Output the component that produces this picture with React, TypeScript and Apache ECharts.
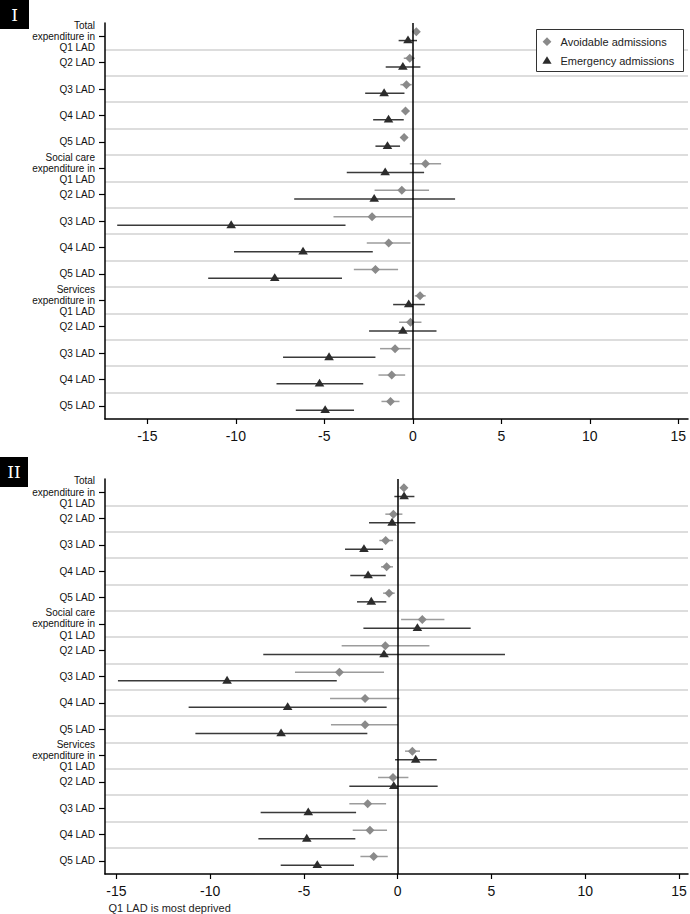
import React, { useEffect, useRef } from "react";
import * as echarts from "echarts";

const categories = [
  "Total\nexpenditure in\nQ1 LAD", "Q2 LAD", "Q3 LAD", "Q4 LAD", "Q5 LAD",
  "Social care\nexpenditure in\nQ1 LAD", "Q2 LAD", "Q3 LAD", "Q4 LAD", "Q5 LAD",
  "Services\nexpenditure in\nQ1 LAD", "Q2 LAD", "Q3 LAD", "Q4 LAD", "Q5 LAD",
];

const xTicks = [-15, -10, -5, 0, 5, 10, 15];

// Panel I
const avoidI = [0.2, -0.17, -0.36, -0.41, -0.49, 0.72, -0.62, -2.3, -1.36, -2.11, 0.41, -0.13, -1.0, -1.19, -1.26];
const avoidILo = [0.05, -0.51, -0.7, -0.62, -0.68, -0.17, -2.16, -4.48, -2.6, -3.33, 0.11, -0.77, -1.85, -1.94, -1.77];
const avoidIHi = [0.35, 0.11, -0.06, -0.2, -0.3, 1.6, 0.92, -0.06, -0.13, -0.83, 0.73, 0.49, -0.13, -0.43, -0.75];
const emergI = [-0.27, -0.56, -1.62, -1.37, -1.43, -1.56, -2.18, -10.26, -6.2, -7.8, -0.23, -0.56, -4.73, -5.27, -4.95];
const emergILo = [-0.8, -1.53, -2.69, -2.24, -2.11, -3.73, -6.7, -16.7, -10.1, -11.56, -1.11, -2.47, -7.33, -7.7, -6.61];
const emergIHi = [0.24, 0.43, -0.47, -0.51, -0.72, 0.64, 2.39, -3.8, -2.26, -4.0, 0.68, 1.34, -2.11, -2.8, -3.32];

// Panel II
const avoidII = [0.33, -0.23, -0.64, -0.59, -0.46, 1.31, -0.66, -3.11, -1.74, -1.74, 0.78, -0.25, -1.6, -1.48, -1.28];
const avoidIILo = [0.15, -0.66, -0.98, -0.89, -0.78, 0.18, -2.99, -5.48, -3.61, -3.56, 0.39, -1.05, -2.58, -2.4, -1.99];
const avoidIIHi = [0.5, 0.25, -0.25, -0.25, -0.16, 2.49, 1.69, -0.73, 0.09, 0.02, 1.19, 0.57, -0.62, -0.57, -0.53];
const emergII = [0.34, -0.3, -1.8, -1.58, -1.41, 1.05, -0.73, -9.1, -5.87, -6.22, 0.96, -0.21, -4.77, -4.85, -4.29];
const emergIILo = [-0.18, -1.53, -2.81, -2.53, -2.17, -1.83, -7.17, -14.92, -11.15, -10.79, -0.14, -2.58, -7.31, -7.43, -6.24];
const emergIIHi = [0.89, 0.94, -0.78, -0.64, -0.61, 3.89, 5.72, -3.25, -0.59, -1.62, 2.08, 2.13, -2.22, -2.26, -2.33];

const FONT = "'Liberation Sans', Arial, Helvetica, sans-serif";
const DIAMOND_FILL = "#8a8a8a";
const DIAMOND_BAR = "#9c9c9c";
const TRI_FILL = "#2c2c2c";
const TRI_BAR = "#3a3a3a";

function makeRender(kind: "diamond" | "triangle", fill: string, bar: string, off: number) {
  return (params: any, api: any) => {
    const v = api.value(0);
    const i = api.value(1);
    const lo = api.value(2);
    const hi = api.value(3);
    const c = api.coord([v, i]);
    const band = api.size([0, 1])[1];
    const y = c[1] + off * band;
    const x = c[0];
    const x1 = api.coord([lo, i])[0];
    const x2 = api.coord([hi, i])[0];
    let pts: number[][];
    if (kind === "diamond") {
      const s = 4.5;
      pts = [[x, y - s], [x + s, y], [x, y + s], [x - s, y]];
    } else {
      pts = [[x, y - 5], [x + 4.8, y + 2.8], [x - 4.8, y + 2.8]];
    }
    return {
      type: "group",
      children: [
        { type: "line", shape: { x1, y1: y, x2, y2: y }, style: { stroke: bar, lineWidth: 1.5 } },
        { type: "polygon", shape: { points: pts }, style: { fill, stroke: null } },
      ],
    };
  };
}

function seriesData(vals: number[], lo: number[], hi: number[]) {
  return vals.map((v, i) => [v, i, lo[i], hi[i]]);
}

function yAxisFor(g: number) {
  return {
    type: "category",
    gridIndex: g,
    inverse: true,
    boundaryGap: true,
    data: categories.map((_, i) => String(i)),
    axisLine: { show: true, onZero: false, lineStyle: { color: "#000", width: 1.5 } },
    axisTick: { show: true, alignWithLabel: true, interval: 0, length: 6, lineStyle: { color: "#000", width: 1.2 } },
    axisLabel: {
      interval: 0,
      formatter: (_v: string, idx: number) => categories[idx],
      fontSize: 10,
      lineHeight: 11.2,
      color: "#111",
      margin: 10,
      fontFamily: FONT,
      align: "right",
    },
    splitLine: {
      show: true,
      interval: 0,
      showMinLine: false,
      showMaxLine: false,
      lineStyle: { color: "#d2d2d2", width: 1.5 },
    },
  };
}

function xAxisFor(g: number, min: number, max: number) {
  return {
    type: "value",
    gridIndex: g,
    min,
    max,
    axisLine: { show: true, onZero: false, lineStyle: { color: "#000", width: 1.5 } },
    axisTick: { show: true, length: 5, customValues: xTicks, lineStyle: { color: "#000", width: 1.2 } },
    axisLabel: { customValues: xTicks, fontSize: 14, color: "#111", margin: 10, fontFamily: FONT },
    splitLine: { show: false },
  };
}

export default function App() {
  const ref = useRef<HTMLDivElement>(null);

  useEffect(() => {
    if (!ref.current) return;
    const chart = echarts.init(ref.current, null, { renderer: "svg" });

    const zeroLine = {
      silent: true,
      symbol: "none",
      label: { show: false },
      lineStyle: { color: "#000", width: 1.5, type: "solid" },
      data: [{ xAxis: 0 }],
    };

    const option: any = {
      animation: false,
      backgroundColor: "#fff",
      grid: [
        { left: 105, top: 23, width: 583, height: 396 },
        { left: 105, top: 479, width: 583, height: 395 },
      ],
      xAxis: [xAxisFor(0, -17.39, 15.55), xAxisFor(1, -15.61, 15.48)],
      yAxis: [yAxisFor(0), yAxisFor(1)],
      series: [
        {
          name: "Avoidable admissions",
          type: "custom",
          xAxisIndex: 0,
          yAxisIndex: 0,
          encode: { x: 0, y: 1 },
          itemStyle: { color: DIAMOND_FILL },
          renderItem: makeRender("diamond", DIAMOND_FILL, DIAMOND_BAR, -0.165),
          data: seriesData(avoidI, avoidILo, avoidIHi),
          markLine: zeroLine,
          z: 3,
        },
        {
          name: "Emergency admissions",
          type: "custom",
          xAxisIndex: 0,
          yAxisIndex: 0,
          encode: { x: 0, y: 1 },
          itemStyle: { color: TRI_FILL },
          renderItem: makeRender("triangle", TRI_FILL, TRI_BAR, 0.165),
          data: seriesData(emergI, emergILo, emergIHi),
          z: 4,
        },
        {
          name: "Avoidable admissions",
          type: "custom",
          xAxisIndex: 1,
          yAxisIndex: 1,
          encode: { x: 0, y: 1 },
          itemStyle: { color: DIAMOND_FILL },
          renderItem: makeRender("diamond", DIAMOND_FILL, DIAMOND_BAR, -0.165),
          data: seriesData(avoidII, avoidIILo, avoidIIHi),
          markLine: zeroLine,
          z: 3,
        },
        {
          name: "Emergency admissions",
          type: "custom",
          xAxisIndex: 1,
          yAxisIndex: 1,
          encode: { x: 0, y: 1 },
          itemStyle: { color: TRI_FILL },
          renderItem: makeRender("triangle", TRI_FILL, TRI_BAR, 0.165),
          data: seriesData(emergII, emergIILo, emergIIHi),
          z: 4,
        },
      ],
      graphic: [
        // Panel labels
        { type: "rect", left: 0, top: 0, shape: { width: 29, height: 29 }, style: { fill: "#000" } },
        {
          type: "text", x: 14.5, y: 15,
          style: { text: "I", fill: "#fff", font: "17px 'DejaVu Serif', 'Liberation Serif', serif", align: "center", verticalAlign: "middle" },
        },
        { type: "rect", left: 0, top: 457, shape: { width: 28, height: 30 }, style: { fill: "#000" } },
        {
          type: "text", x: 14, y: 472,
          style: { text: "II", fill: "#fff", font: "17px 'DejaVu Serif', 'Liberation Serif', serif", align: "center", verticalAlign: "middle" },
        },
        // Legend
        {
          type: "rect", shape: { x: 536.5, y: 29.5, width: 147, height: 42 },
          style: { fill: "#fff", stroke: "#333", lineWidth: 1 }, z: 10,
        },
        {
          type: "polygon", shape: { points: [[547, 37.3], [551.4, 41.7], [547, 46.1], [542.6, 41.7]] },
          style: { fill: DIAMOND_FILL }, z: 11,
        },
        {
          type: "polygon", shape: { points: [[547, 56.2], [551.6, 63.7], [542.4, 63.7]] },
          style: { fill: TRI_FILL }, z: 11,
        },
        {
          type: "text", x: 560.5, y: 41.7, z: 11,
          style: { text: "Avoidable admissions", fill: "#222", font: `11px ${FONT}`, verticalAlign: "middle" },
        },
        {
          type: "text", x: 560.5, y: 60.7, z: 11,
          style: { text: "Emergency admissions", fill: "#222", font: `11px ${FONT}`, verticalAlign: "middle" },
        },
        // Footnote
        {
          type: "text", x: 108.5, y: 908,
          style: { text: "Q1 LAD is most deprived", fill: "#222", font: `11px ${FONT}`, verticalAlign: "middle" },
        },
      ],
    };

    chart.setOption(option);
    return () => chart.dispose();
  }, []);

  return (
    <div
      ref={ref}
      style={{ position: "fixed", left: 0, top: 0, width: 690, height: 914, background: "#fff" }}
    />
  );
}
